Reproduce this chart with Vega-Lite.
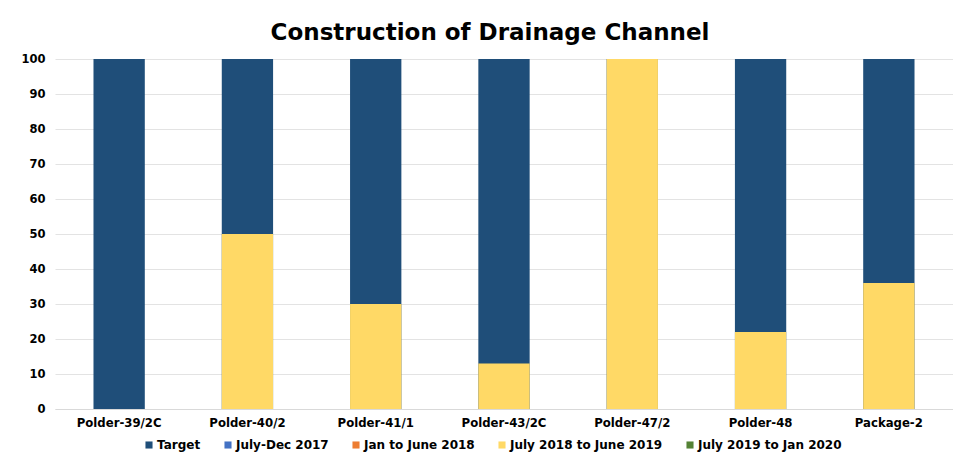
{
  "$schema": "https://vega.github.io/schema/vega-lite/v6.json",
  "width": 898,
  "height": 350,
  "autosize": {"type": "none"},
  "padding": {"left": 55, "top": 59, "right": 0, "bottom": 43},
  "background": "white",
  "title": {
    "text": "Construction of Drainage Channel",
    "font": "DejaVu Sans",
    "fontSize": 23,
    "fontWeight": "bold",
    "color": "#000000",
    "anchor": "middle",
    "offset": 8,
    "dx": -14
  },
  "data": {
    "values": [
      {"package": "Polder-39/2C", "series": "Target", "value": 100, "ord": 0},
      {"package": "Polder-40/2", "series": "Target", "value": 100, "ord": 0},
      {"package": "Polder-41/1", "series": "Target", "value": 100, "ord": 0},
      {"package": "Polder-43/2C", "series": "Target", "value": 100, "ord": 0},
      {"package": "Polder-47/2", "series": "Target", "value": 100, "ord": 0},
      {"package": "Polder-48", "series": "Target", "value": 100, "ord": 0},
      {"package": "Package-2", "series": "Target", "value": 100, "ord": 0},
      {"package": "Polder-39/2C", "series": "July 2018 to June 2019", "value": 0, "ord": 1},
      {"package": "Polder-40/2", "series": "July 2018 to June 2019", "value": 50, "ord": 1},
      {"package": "Polder-41/1", "series": "July 2018 to June 2019", "value": 30, "ord": 1},
      {"package": "Polder-43/2C", "series": "July 2018 to June 2019", "value": 13, "ord": 1},
      {"package": "Polder-47/2", "series": "July 2018 to June 2019", "value": 100, "ord": 1},
      {"package": "Polder-48", "series": "July 2018 to June 2019", "value": 22, "ord": 1},
      {"package": "Package-2", "series": "July 2018 to June 2019", "value": 36, "ord": 1}
    ]
  },
  "mark": {"type": "bar"},
  "encoding": {
    "x": {
      "field": "package",
      "type": "nominal",
      "sort": null,
      "title": null,
      "scale": {"paddingInner": 0.6, "paddingOuter": 0.3},
      "axis": {
        "labelAngle": 0,
        "labelFont": "DejaVu Sans Condensed",
        "labelFontSize": 13,
        "labelFontWeight": "bold",
        "labelColor": "#000000",
        "ticks": false,
        "domainColor": "#d9d9d9",
        "labelPadding": 7
      }
    },
    "y": {
      "field": "value",
      "type": "quantitative",
      "stack": null,
      "title": null,
      "scale": {"domain": [0, 100]},
      "axis": {
        "values": [0, 10, 20, 30, 40, 50, 60, 70, 80, 90, 100],
        "labelFont": "DejaVu Sans",
        "labelFontSize": 11.5,
        "labelFontWeight": "bold",
        "labelColor": "#000000",
        "ticks": false,
        "domain": false,
        "gridColor": "#e3e3e3",
        "labelPadding": 10
      }
    },
    "color": {
      "field": "series",
      "type": "nominal",
      "title": null,
      "scale": {
        "domain": ["Target", "July-Dec 2017", "Jan to June 2018", "July 2018 to June 2019", "July 2019 to Jan 2020"],
        "range": ["#1f4e79", "#4472c4", "#ed7d31", "#ffd966", "#548235"]
      },
      "legend": {
        "orient": "none",
        "legendX": 88,
        "legendY": 380,
        "direction": "horizontal",
        "symbolType": "square",
        "symbolSize": 50,
        "symbolStrokeWidth": 0,
        "labelFont": "DejaVu Sans",
        "labelFontSize": 12,
        "labelFontWeight": "bold",
        "labelColor": "#000000",
        "columnPadding": 21,
        "labelOffset": 2
      }
    },
    "order": {"field": "ord", "type": "quantitative"}
  },
  "config": {
    "view": {"stroke": null}
  }
}
